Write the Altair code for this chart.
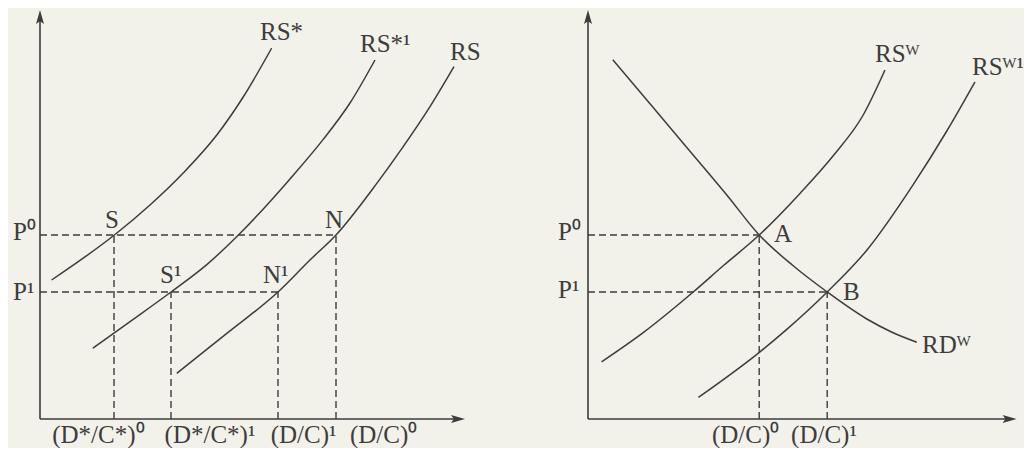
import altair as alt
import pandas as pd

# ---------------- values (data units) ----------------
P0, P1 = 46.0, 31.75          # the two relative prices

# left panel: national relative supply curves
RS_STAR_X = [2.9, 10.8, 18.6, 27.5, 35.8, 44.2, 50.8, 57.9]
RS_STAR_Y = [34.75, 40.2, 46.0, 53.5, 61.5, 71.0, 80.5, 92.7]
RS_STAR1_X = [13.2, 23.3, 32.75, 41.7, 49.6, 56.0, 62.5, 70.8, 77.5, 83.75]
RS_STAR1_Y = [17.7, 24.9, 31.75, 38.6, 46.0, 52.7, 60.0, 69.9, 79.0, 89.75]
RS_X = [34.2, 46.7, 59.5, 67.5, 74.0, 84.2, 90.8, 97.5, 103.5]
RS_Y = [11.4, 21.4, 31.75, 39.75, 46.0, 58.9, 68.1, 78.1, 88.1]

# left panel equilibrium points S, S1, N1, N
LEFT_PT_NAMES = ["S", "S1", "N1", "N"]
LEFT_PT_X = [18.5, 32.75, 59.5, 74.0]
LEFT_PT_Y = [P0, P1, P1, P0]

# right panel: world relative supply / demand
RDW_X = [6.2, 15.5, 24.7, 34.7, 42.8, 51.3, 59.8, 69.7, 76.0, 82.2]
RDW_Y = [89.8, 78.8, 67.9, 56.0, 46.0, 38.3, 31.75, 25.0, 21.7, 19.2]
RSW_X = [3.4, 13.8, 26.3, 33.8, 42.8, 53.0, 61.3, 68.8, 74.25]
RSW_Y = [14.3, 21.6, 31.75, 38.3, 46.0, 56.4, 65.8, 76.0, 87.25]
RSW1_X = [27.6, 43.0, 49.7, 59.8, 69.7, 81.3, 89.7, 96.75]
RSW1_Y = [5.4, 16.8, 22.4, 31.75, 42.2, 58.6, 72.0, 84.3]

RIGHT_PT_NAMES = ["A", "B"]
RIGHT_PT_X = [42.8, 59.8]
RIGHT_PT_Y = [P0, P1]

# labels (text, x, baseline y)
LEFT_LABELS = ["RS*", "RS*¹", "RS", "S", "N", "S¹", "N¹", "P⁰", "P¹"]
LEFT_LABEL_X = [55.0, 80.0, 102.5, 16.25, 71.25, 30.0, 55.75, -6.75, -6.75]
LEFT_LABEL_Y = [94.75, 91.75, 89.75, 47.75, 47.75, 34.0, 34.0, 44.75, 29.75]
LEFT_TICKS = ["(D*/C*)⁰", "(D*/C*)¹", "(D/C)¹", "(D/C)⁰"]
LEFT_TICK_X = [14.6, 42.5, 65.9, 85.9]

RIGHT_LABELS = ["RSᵂ", "RSᵂ¹", "RDᵂ", "A", "B", "P⁰", "P¹"]
RIGHT_LABEL_X = [71.75, 96.0, 83.5, 46.5, 63.75, -7.5, -7.5]
RIGHT_LABEL_Y = [89.3, 86.0, 16.5, 44.25, 29.75, 44.75, 30.25]
RIGHT_TICKS = ["(D/C)⁰", "(D/C)¹"]
RIGHT_TICK_X = [39.4, 59.0]
TICK_Y = -6.0

# axis extents
LEFT_X_END, RIGHT_X_END, Y_END = 104.5, 105.4, 100.5

# ---------------- styling ----------------
FONT = "Liberation Serif"
INK = "#3d3d3d"
BG = "#f2f1ea"
UP = "M0,-1L0.57,1L0,0.6L-0.57,1Z"
RIGHT = "M1,0L-1,-0.57L-0.6,0L-1,0.57Z"


def curves_df(pairs):
    rows = []
    for name, xs, ys in pairs:
        for x, y in zip(xs, ys):
            rows.append({"curve": name, "x": x, "y": y})
    return pd.DataFrame(rows)


def guides_df(xs, ys, horiz):
    rows = []
    for x, y, h in zip(xs, ys, horiz):
        rows.append({"x": x, "x2": x, "y": 0.0, "y2": y})
        if h:
            rows.append({"x": 0.0, "x2": x, "y": y, "y2": y})
    return pd.DataFrame(rows)


def panel(curves, guides, labels, ticks, xdom, ydom, w, h, x_end):
    xs = alt.Scale(domain=xdom, nice=False, zero=False)
    ys = alt.Scale(domain=ydom, nice=False, zero=False)
    X = alt.X("x:Q", scale=xs, axis=None)
    Y = alt.Y("y:Q", scale=ys, axis=None)

    curve_layer = alt.Chart(curves).mark_line(
        interpolate="monotone", color=INK, strokeWidth=1.5
    ).encode(x=X, y=Y, detail="curve:N")

    guide_layer = alt.Chart(guides).mark_rule(
        color=INK, strokeWidth=1.4, strokeDash=[7, 4]
    ).encode(x=X, x2="x2:Q", y=Y, y2="y2:Q")

    axes = pd.DataFrame({"x": [0.0, 0.0], "x2": [x_end, 0.0],
                         "y": [0.0, 0.0], "y2": [0.0, Y_END]})
    axis_layer = alt.Chart(axes).mark_rule(color=INK, strokeWidth=1.6).encode(
        x=X, x2="x2:Q", y=Y, y2="y2:Q")

    arrows = pd.DataFrame({"x": [x_end, 0.0], "y": [0.0, Y_END], "dir": ["right", "up"]})
    arrow_layer = alt.Chart(arrows).mark_point(
        filled=True, size=196, opacity=1, color=INK
    ).encode(x=X, y=Y, shape=alt.Shape("dir:N", scale=alt.Scale(
        domain=["right", "up"], range=[RIGHT, UP]), legend=None))

    text_layer = alt.Chart(labels).mark_text(
        align="left", baseline="alphabetic", font=FONT, fontSize=25, color=INK
    ).encode(x=X, y=Y, text="label:N")

    tick_layer = alt.Chart(ticks).mark_text(
        align="center", baseline="alphabetic", font=FONT, fontSize=25, color=INK
    ).encode(x=X, y=Y, text="label:N")

    return alt.layer(guide_layer, axis_layer, arrow_layer, curve_layer,
                     text_layer, tick_layer).properties(width=w, height=h)


left_curves = curves_df([("RS*", RS_STAR_X, RS_STAR_Y),
                         ("RS*1", RS_STAR1_X, RS_STAR1_Y),
                         ("RS", RS_X, RS_Y)])
right_curves = curves_df([("RDW", RDW_X, RDW_Y),
                          ("RSW", RSW_X, RSW_Y),
                          ("RSW1", RSW1_X, RSW1_Y)])

left_guides = guides_df(LEFT_PT_X, LEFT_PT_Y, [False, False, True, True])
right_guides = guides_df(RIGHT_PT_X, RIGHT_PT_Y, [True, True])

left_labels = pd.DataFrame({"label": LEFT_LABELS, "x": LEFT_LABEL_X, "y": LEFT_LABEL_Y})
left_ticks = pd.DataFrame({"label": LEFT_TICKS, "x": LEFT_TICK_X, "y": [TICK_Y] * len(LEFT_TICKS)})
right_labels = pd.DataFrame({"label": RIGHT_LABELS, "x": RIGHT_LABEL_X, "y": RIGHT_LABEL_Y})
right_ticks = pd.DataFrame({"label": RIGHT_TICKS, "x": RIGHT_TICK_X, "y": [TICK_Y] * len(RIGHT_TICKS)})

YDOM = [-6.25, 102.75]
left = panel(left_curves, left_guides, left_labels, left_ticks,
             [-8, 120], YDOM, 512, 436, LEFT_X_END)
right = panel(right_curves, right_guides, right_labels, right_ticks,
              [-17, 109], YDOM, 504, 436, RIGHT_X_END)

chart = alt.hconcat(left, right, spacing=0).properties(
    padding=0, background=BG
).configure_view(strokeWidth=0)

chart.save("out.html", embed_options={"renderer": "svg", "actions": False})
